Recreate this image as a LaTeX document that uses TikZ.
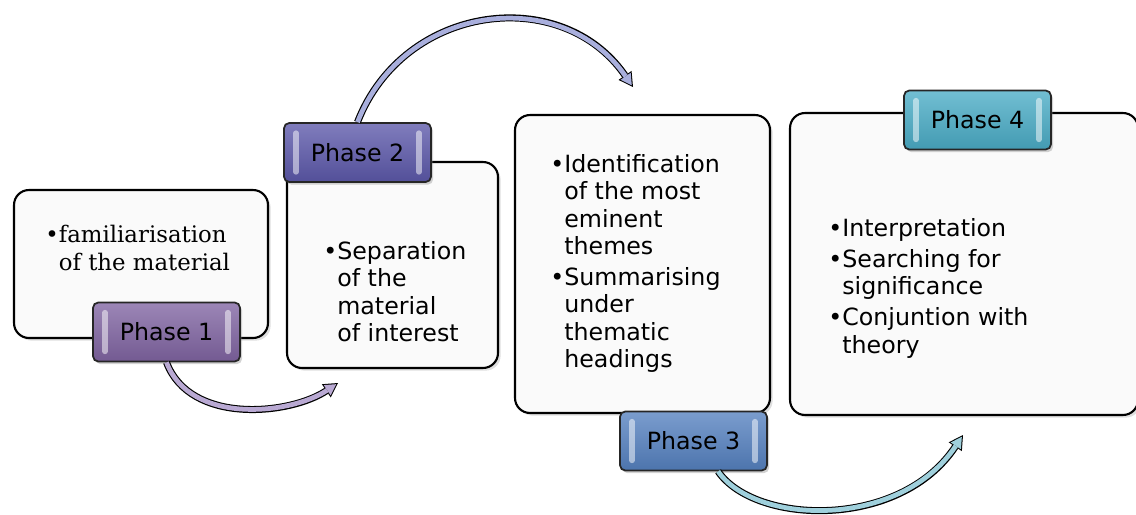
\documentclass[tikz,border=0pt]{standalone}
\usepackage{fontspec}
\setmainfont{DejaVu Sans}
\newfontfamily\bookfont{DejaVu Serif}
\usetikzlibrary{arrows.meta,shadows}

\definecolor{phaseone}{HTML}{8064A2}
\definecolor{phasetwo}{HTML}{5C58AA}
\definecolor{phasethree}{HTML}{5581C0}
\definecolor{phasefour}{HTML}{4AACC6}
\definecolor{flowone}{HTML}{B9A9D3}
\definecolor{flowtwo}{HTML}{A9AFDD}
\definecolor{flowthree}{HTML}{9FD0DC}

\tikzstyle{stage}=[draw=black, line width=1.2pt, rounded corners=8.5pt,
    fill=white!98!black,
    drop shadow={opacity=.25, shadow xshift=1.5pt, shadow yshift=-1.5pt}]
\tikzstyle{txt}=[inner sep=0pt, align=left, anchor=north west,
    font=\fontsize{13.5}{15.6}\selectfont]
\tikzset{
    tag/.style={draw=black!85, line width=1pt, rounded corners=3pt,
        minimum width=2.94cm, minimum height=1.18cm,
        top color=#1!78!white, middle color=#1, bottom color=#1!90!black,
        font=\fontsize{13.5}{15.6}\selectfont,
        drop shadow={opacity=.35, shadow xshift=1.2pt, shadow yshift=-1.5pt},
        path picture={
            \draw[white, opacity=.5, line width=3pt, line cap=round]
            ([shift={(12,10)}]path picture bounding box.north west)
                -- ([shift={(12,-10)}]path picture bounding box.south west)
            ([shift={(-12,10)}]path picture bounding box.north east)
                -- ([shift={(-12,-10)}]path picture bounding box.south east);
        }},
    flow/.style={draw=#1, line width=2.7pt, shorten >=1.2pt,
        -{Triangle[length=6.2pt, width=7pt, line width=0pt]},
        preaction={draw=black, line width=4pt, shorten >=0pt,
            -{Triangle[length=8pt, width=9pt, line width=0pt]}}}
}
\newcommand{\bul}{•}
\newcommand{\ind}{\hphantom{•}}

\begin{document}
\begin{tikzpicture}[x=0.02cm, y=-0.02cm]
\useasboundingbox (0,0) rectangle (1136,514);

% the four stage boxes
\node[stage, minimum width=5.08cm, minimum height=2.96cm] (s1) at (141,264) {};
\node[stage, minimum width=4.22cm, minimum height=4.12cm] (s2) at (392.5,265) {};
\node[stage, minimum width=5.10cm, minimum height=5.96cm] (s3) at (642.5,264) {};
\node[stage, minimum width=6.96cm, minimum height=6.04cm] (s4) at (964,264) {};

% box contents
\node[txt, font=\bookfont\fontsize{13}{15.9}\selectfont] (t1) at (45,225)
    {\bul familiarisation\\\ind of the material};
\node[txt] (t2) at (323,241)
    {\bul Separation\\\ind of the\\\ind material\\\ind of interest};
\node[txt] (t3) at (550,154)
    {\bul Identification\\\ind of the most\\\ind eminent\\\ind themes\\[2pt]
     \bul Summarising\\\ind under\\\ind thematic\\\ind headings};
\node[txt] (t4) at (828,218)
    {\bul Interpretation\\[2pt]\bul Searching for\\\ind significance\\[2pt]
     \bul Conjuntion with\\\ind theory};

% phase labels
\node[tag=phaseone] (p1) at (166.5,332) {Phase 1};
\node[tag=phasetwo] (p2) at (357.5,152.5) {Phase 2};
\node[tag=phasethree] (p3) at (693.5,441) {Phase 3};
\node[tag=phasefour] (p4) at (977.5,120) {Phase 4};

% curved arrows between phases
\coordinate (e1) at (338,383);
\coordinate (e2) at (633,87);
\coordinate (e3) at (963,435);
\draw[flow=flowone] (p1.south) .. controls (190,425) and (290,415) .. (e1);
\draw[flow=flowtwo] (p2.north) .. controls (404,3) and (562,-16) .. (e2);
\draw[flow=flowthree] (p3.-51) .. controls (755,525) and (900,530) .. (e3);
\end{tikzpicture}
\end{document}
